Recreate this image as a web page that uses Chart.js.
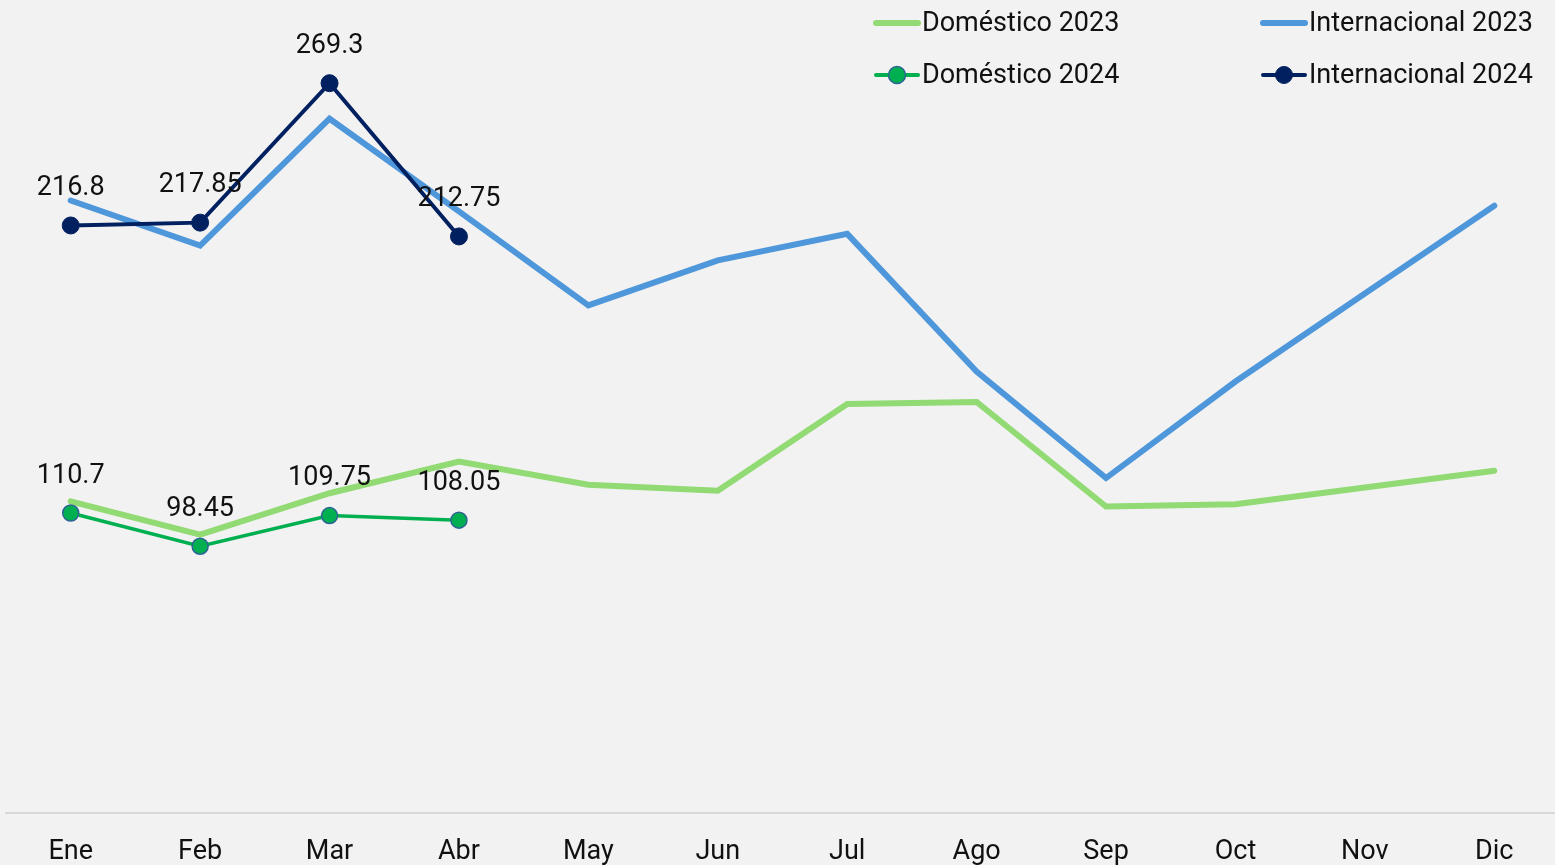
<!DOCTYPE html>
<html><head><meta charset="utf-8">
<script src="https://cdn.jsdelivr.net/npm/chart.js@4.4.1/dist/chart.umd.min.js"></script>
<style>
html,body{margin:0;padding:0;background:#f2f2f2;overflow:hidden;width:1555px;height:865px}
canvas{display:block}
</style></head>
<body>
<canvas id="c" width="1559" height="865" style="width:1559px;height:865px"></canvas>
<script>
const months = ['Ene','Feb','Mar','Abr','May','Jun','Jul','Ago','Sep','Oct','Nov','Dic'];
const domestico2023 = [115.0,102.7,118.0,129.7,121.1,118.9,150.9,151.7,113.1,113.9,120.1,126.3];
const internacional2023 = [226.0,209.4,256.2,222.0,187.3,203.9,213.7,162.9,123.6,159.2,191.7,224.1];
const domestico2024 = [110.7,98.45,109.75,108.05];
const internacional2024 = [216.8,217.85,269.3,212.75];
const seriesNames = ['Doméstico 2023','Internacional 2023','Doméstico 2024','Internacional 2024'];
const yMin = 0, yMax = 300;

const FONT = 'Roboto, "Liberation Sans", sans-serif';
const TEXT = '#111111';

const labelPlugin = {
  id: 'pointLabels',
  afterDatasetsDraw(chart) {
    const ctx = chart.ctx;
    ctx.save();
    ctx.font = '27px ' + FONT;
    ctx.fillStyle = TEXT;
    ctx.textAlign = 'center';
    ctx.textBaseline = 'middle';
    chart.data.datasets.forEach((ds, i) => {
      if (!ds.showValues) return;
      const meta = chart.getDatasetMeta(i);
      meta.data.forEach((pt, j) => {
        ctx.fillText(String(ds.data[j]), pt.x, pt.y - 37);
      });
    });
    ctx.restore();
  }
};

const legendPlugin = {
  id: 'customLegend',
  afterDraw(chart) {
    const ctx = chart.ctx;
    const slots = [
      {name: seriesNames[0], x: 873, y: 23},
      {name: seriesNames[1], x: 1260, y: 23},
      {name: seriesNames[2], x: 873, y: 75},
      {name: seriesNames[3], x: 1260, y: 75}
    ];
    ctx.save();
    slots.forEach(s => {
      const ds = chart.data.datasets.find(d => d.label === s.name);
      if (!ds) return;
      ctx.lineCap = 'round';
      ctx.strokeStyle = ds.borderColor;
      if (ds.pointRadius > 0) {
        ctx.lineWidth = 4;
        ctx.beginPath(); ctx.moveTo(s.x + 3, s.y); ctx.lineTo(s.x + 45, s.y); ctx.stroke();
        ctx.beginPath();
        ctx.arc(s.x + 24, s.y, 8.5, 0, Math.PI * 2);
        ctx.fillStyle = ds.pointBackgroundColor;
        ctx.fill();
        ctx.lineWidth = ds.pointBorderWidth;
        ctx.strokeStyle = ds.pointBorderColor;
        ctx.stroke();
      } else {
        ctx.lineWidth = 6;
        ctx.beginPath(); ctx.moveTo(s.x + 3, s.y); ctx.lineTo(s.x + 45, s.y); ctx.stroke();
      }
      ctx.font = '27px ' + FONT;
      ctx.fillStyle = TEXT;
      ctx.textAlign = 'left';
      ctx.textBaseline = 'middle';
      ctx.fillText(s.name, s.x + 49, s.y + 1);
    });
    ctx.restore();
  }
};

new Chart(document.getElementById('c'), {
  type: 'line',
  data: {
    labels: months,
    datasets: [
      {
        label: seriesNames[3], data: internacional2024, showValues: true,
        borderColor: '#002060', borderWidth: 4,
        pointRadius: 8.5, pointBackgroundColor: '#002060', pointBorderColor: '#002060', pointBorderWidth: 1,
        tension: 0
      },
      {
        label: seriesNames[2], data: domestico2024, showValues: true,
        borderColor: '#00b050', borderWidth: 3.5,
        pointRadius: 8, pointBackgroundColor: '#00b050', pointBorderColor: '#2e6494', pointBorderWidth: 1.5,
        tension: 0
      },
      {
        label: seriesNames[1], data: internacional2023,
        borderColor: '#4f97db', borderWidth: 6, borderCapStyle: 'round',
        pointRadius: 0, tension: 0
      },
      {
        label: seriesNames[0], data: domestico2023,
        borderColor: '#91da74', borderWidth: 6, borderCapStyle: 'round',
        pointRadius: 0, tension: 0
      }
    ]
  },
  options: {
    responsive: false,
    animation: false,
    devicePixelRatio: 1,
    layout: {autoPadding: false, padding: {left: 6, right: 0, top: 0, bottom: 0}},
    plugins: {legend: {display: false}, tooltip: {enabled: false}},
    scales: {
      y: {display: false, min: yMin, max: yMax},
      x: {
        offset: true,
        grid: {color: 'rgba(0,0,0,0)', drawTicks: false},
        border: {display: true, color: '#d9d9d9', width: 2},
        ticks: {color: TEXT, font: {family: FONT, size: 27}, padding: 23, maxRotation: 0, autoSkip: false},
        afterFit(scale) {
          scale.paddingLeft = 0;
          scale.paddingRight = 0;
          scale.height = 52;
        }
      }
    }
  },
  plugins: [labelPlugin, legendPlugin]
});
</script>
</body></html>
